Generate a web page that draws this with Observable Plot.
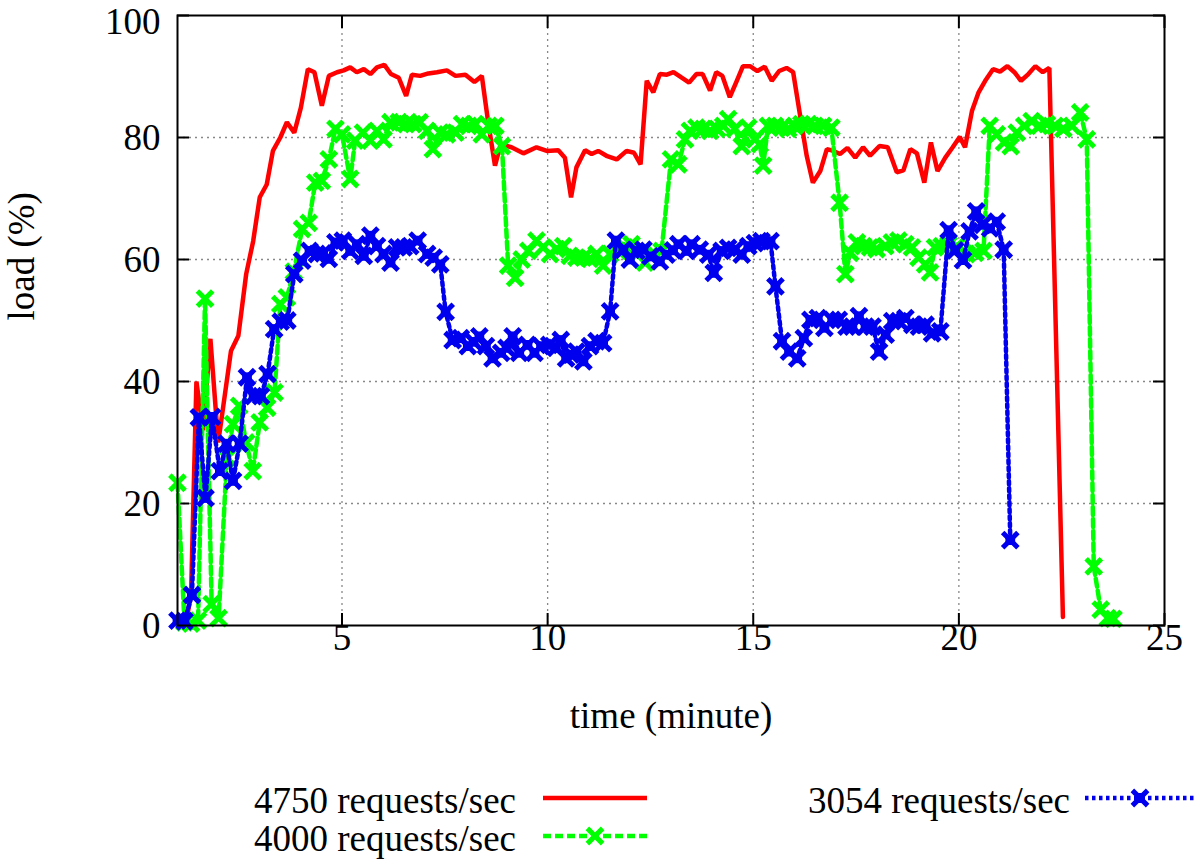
<!DOCTYPE html>
<html><head><meta charset="utf-8">
<script src="https://cdn.jsdelivr.net/npm/d3@7"></script>
<script src="https://cdn.jsdelivr.net/npm/@observablehq/plot@0.6"></script>
<style>
body{margin:0;background:#fff;}
#wrap{width:1200px;height:861px;overflow:hidden;background:#fff;}
svg{display:block;}
</style></head><body><div id="wrap"></div>
<script>
// time (minute), load (%)
const series4750 = [[1.22,1],[1.33,5],[1.46,40],[1.62,32],[1.8,47],[1.99,30],[2.3,45],[2.48,47.5],[2.67,57.6],[2.84,63],[3.0,70.2],[3.17,72.3],[3.32,77.8],[3.5,80],[3.66,82.5],[3.84,80.8],[4.0,84.9],[4.17,91.2],[4.33,90.7],[4.51,85.2],[4.68,90.1],[4.88,90.7],[5.04,91],[5.2,91.5],[5.36,90.7],[5.53,91.2],[5.69,90.4],[5.85,91.5],[6.03,91.9],[6.19,90.4],[6.38,89.8],[6.56,86.8],[6.7,90.3],[6.9,90.1],[7.1,90.5],[7.31,90.7],[7.55,91],[7.76,90.1],[8.0,90.3],[8.22,89.1],[8.4,90.1],[8.55,82.7],[8.72,75.4],[8.86,78.9],[9.12,78.4],[9.41,77.4],[9.73,78.4],[9.98,77.8],[10.26,77.9],[10.42,76.7],[10.57,70.2],[10.7,75.1],[10.91,77.9],[11.07,77.3],[11.23,77.8],[11.43,77],[11.68,76.4],[11.92,77.8],[12.1,77.5],[12.26,75.6],[12.41,89.3],[12.57,87.4],[12.73,90.4],[12.9,90.3],[13.06,90.7],[13.26,89.8],[13.44,89],[13.62,90.4],[13.77,90.4],[13.95,87.7],[14.1,90.7],[14.25,90.1],[14.43,86.6],[14.6,89.3],[14.75,91.7],[14.92,91.7],[15.1,90.9],[15.28,91.6],[15.45,89.3],[15.63,90.9],[15.81,91.4],[15.97,90.7],[16.13,84],[16.3,77],[16.45,72.6],[16.63,74.5],[16.79,78.1],[16.95,77.8],[17.11,77.3],[17.29,78.3],[17.48,76.7],[17.67,78.4],[17.84,77],[18.07,78.6],[18.27,78.4],[18.49,74.3],[18.65,74.6],[18.82,78.1],[18.98,77.4],[19.16,72.6],[19.32,79.2],[19.48,74.5],[19.67,76.7],[19.85,78.4],[20.02,80.1],[20.15,78.4],[20.32,84.4],[20.48,87.4],[20.64,89.3],[20.83,91.2],[21.0,90.8],[21.18,91.7],[21.35,90.7],[21.51,89.3],[21.69,90.4],[21.86,91.7],[22.04,90.7],[22.2,91.4],[22.53,1.4]];

const series4000 = [[1.0,23.4],[1.17,0.5],[1.33,0.3],[1.5,0.8],[1.67,53.6],[1.83,3.5],[2.0,1.2],[2.2,27.5],[2.35,33],[2.5,36],[2.67,30],[2.83,25.3],[3.0,33.3],[3.18,35.7],[3.36,38.2],[3.5,52.7],[3.66,53.8],[3.83,58],[4.03,65],[4.19,66],[4.35,72.6],[4.51,72.9],[4.68,76.4],[4.84,81.4],[5.0,80.5],[5.2,73.2],[5.32,79.5],[5.51,80.8],[5.69,79.5],[5.85,81.1],[6.01,79.7],[6.18,82.5],[6.38,82.5],[6.56,82.2],[6.73,82.2],[6.89,82.5],[7.07,81.1],[7.21,78.1],[7.39,80.8],[7.55,80.5],[7.76,80.8],[7.92,82.2],[8.08,81.9],[8.24,82.2],[8.4,80.5],[8.57,81.9],[8.73,81.9],[8.89,78.6],[9.04,59],[9.21,57],[9.37,60],[9.53,61.4],[9.73,63.1],[9.89,62],[10.06,60.9],[10.22,61.7],[10.38,62.2],[10.54,60.6],[10.7,60.3],[10.87,60.3],[11.03,60.1],[11.19,60.9],[11.35,59],[11.52,60.9],[11.72,61.4],[11.88,62],[12.04,62.5],[12.2,61.1],[12.37,59.5],[12.57,61.1],[12.77,61.4],[13.0,76.4],[13.18,75.6],[13.34,79.7],[13.46,81.1],[13.62,81.6],[13.78,81.4],[13.95,81.1],[14.12,81.4],[14.27,81.9],[14.39,83],[14.55,81.4],[14.72,78.6],[14.88,81.6],[15.04,79.7],[15.16,78.9],[15.24,75.4],[15.36,81.9],[15.53,81.9],[15.69,81.6],[15.85,81.4],[16.01,81.9],[16.17,82.2],[16.34,82.2],[16.5,81.9],[16.7,81.9],[16.9,81.6],[17.1,69.3],[17.24,57.6],[17.36,61.1],[17.52,62.8],[17.68,62.2],[17.84,62],[18.0,61.7],[18.21,62.2],[18.37,62.8],[18.53,63.1],[18.7,62.5],[18.86,62],[19.02,60.3],[19.18,59.2],[19.3,57.9],[19.42,62],[19.58,62.2],[19.75,62.5],[19.95,62.2],[20.19,60.9],[20.4,61.1],[20.6,61.4],[20.75,81.9],[20.92,80.5],[21.1,79.2],[21.26,78.6],[21.41,80.8],[21.59,81.9],[21.77,82.7],[21.96,81.9],[22.14,82.2],[22.34,81.9],[22.54,81.4],[22.75,81.9],[22.95,84.1],[23.11,79.7],[23.28,9.7],[23.45,2.6],[23.62,1.2],[23.76,1.1]];

const series3054 = [[1.0,0.8],[1.17,0.7],[1.35,5],[1.52,34.1],[1.68,20.9],[1.84,34.2],[2.03,25.3],[2.19,29.8],[2.35,23.7],[2.51,29.8],[2.69,40.7],[2.85,37.6],[3.03,37.6],[3.19,41.2],[3.35,48.6],[3.51,49.8],[3.67,50],[3.84,57.6],[4.03,59.8],[4.21,61.4],[4.39,60.9],[4.54,61],[4.68,60.1],[4.84,62.8],[5.02,63.1],[5.2,61.4],[5.36,62.5],[5.53,60.6],[5.69,63.9],[5.85,62.2],[6.01,60.9],[6.18,59.5],[6.34,62],[6.5,62],[6.66,62.2],[6.84,63.1],[7.07,60.9],[7.23,60.3],[7.39,59.2],[7.52,51.4],[7.69,46.8],[7.89,47.1],[8.06,45.8],[8.2,46.5],[8.34,47.4],[8.5,45.8],[8.66,43.8],[8.87,44.7],[9.0,45.5],[9.15,47.4],[9.31,44.7],[9.51,46],[9.68,44.7],[9.84,45.8],[10.04,46],[10.2,45.5],[10.32,46.8],[10.45,43.8],[10.57,44.4],[10.7,44.9],[10.87,43.3],[11.03,45.8],[11.19,46.6],[11.35,46.3],[11.52,51.5],[11.66,63.1],[11.84,61.6],[12.0,60],[12.16,61.4],[12.33,61.6],[12.5,60.5],[12.73,59.7],[12.89,60.8],[13.05,61.5],[13.18,62.5],[13.38,61.4],[13.5,62.5],[13.7,61.6],[13.91,60.8],[14.04,57.8],[14.23,61.4],[14.39,61.9],[14.55,61.6],[14.72,60.8],[14.88,62.2],[15.04,62.7],[15.2,63],[15.42,63],[15.54,55.6],[15.7,46.6],[15.87,44.9],[16.07,43.8],[16.23,47.1],[16.39,50.1],[16.57,50.4],[16.73,48.8],[16.92,50.1],[17.08,50.1],[17.27,49],[17.41,49],[17.57,50.7],[17.73,49],[17.9,49],[18.06,44.9],[18.22,47.7],[18.38,49.9],[18.54,49.9],[18.7,50.4],[18.87,49.3],[19.03,49],[19.19,49.3],[19.35,47.9],[19.55,48.2],[19.75,64.8],[19.91,61.5],[20.1,59.9],[20.26,64.6],[20.42,67.9],[20.58,65.7],[20.76,65.1],[20.92,66.2],[21.09,61.6],[21.25,14]];

const seriesNames = ["4750 requests/sec", "4000 requests/sec", "3054 requests/sec"];
const seriesColors = ["#ff0000", "#00ff00", "#0000ee"];
const xTicks = [5, 10, 15, 20, 25];
const yTicks = [0, 20, 40, 60, 80, 100];
const xLabel = "time (minute)";
const yLabel = "load (%)";

const toRows = (arr) => arr.map(([t, v]) => ({t, v}));
const red = toRows(series4750), green = toRows(series4000), blue = toRows(series3054);

const FONT = '"Liberation Serif", "Times New Roman", serif';
const FS = 37;
const gridStyle = {stroke: "#888", strokeOpacity: 1, strokeWidth: 1.3, strokeDasharray: "2,4"};

const chart = Plot.plot({
  width: 1200, height: 760,
  marginLeft: 177, marginRight: 36, marginTop: 15, marginBottom: 135,
  style: {fontFamily: FONT, fontSize: FS + "px", color: "black", background: "white", overflow: "visible"},
  x: {domain: [1, 25]},
  y: {domain: [0, 100]},
  marks: [
    Plot.gridX(xTicks.slice(0, 4), gridStyle),
    Plot.gridY(yTicks.slice(1, 5), gridStyle),
    Plot.axisX({ticks: xTicks, tickSize: 0, tickPadding: -2, label: null, fontSize: FS}),
    Plot.axisX({ticks: xTicks, tickSize: -12, tickFormat: () => "", label: null, strokeWidth: 2}),
    Plot.axisX({anchor: "top", ticks: xTicks, tickSize: -12, tickFormat: () => "", label: null, strokeWidth: 2}),
    Plot.axisY({ticks: yTicks.slice(0, 5), tickSize: 0, tickPadding: 17, label: null, fontSize: FS, dy: 1}),
    Plot.axisY({ticks: yTicks.slice(5), tickSize: 0, tickPadding: 17, label: null, fontSize: FS, dy: 7}),
    Plot.axisY({ticks: yTicks, tickSize: -12, tickFormat: () => "", label: null, strokeWidth: 2}),
    Plot.axisY({anchor: "right", ticks: yTicks, tickSize: -12, tickFormat: () => "", label: null, strokeWidth: 2}),
    Plot.line(red, {x: "t", y: "v", stroke: seriesColors[0], strokeWidth: 4.5, strokeLinejoin: "miter"}),
    Plot.line(green, {x: "t", y: "v", stroke: seriesColors[1], strokeWidth: 4.5, strokeDasharray: "8,4"}),
    Plot.dot(green, {x: "t", y: "v", symbol: "times", r: 7, stroke: seriesColors[1], strokeWidth: 5}),
    Plot.line(blue, {x: "t", y: "v", stroke: seriesColors[2], strokeWidth: 4.5, strokeDasharray: "3.5,3.5"}),
    Plot.dot(blue, {x: "t", y: "v", symbol: "square", r: 5.5, fill: seriesColors[2]}),
    Plot.dot(blue, {x: "t", y: "v", symbol: "times", r: 7, stroke: seriesColors[2], strokeWidth: 5}),
    Plot.frame({stroke: "black", strokeWidth: 2}),
    Plot.text([xLabel], {frameAnchor: "bottom", dy: 102, text: d => d, fontSize: FS, fill: "black"}),
    Plot.text([yLabel], {frameAnchor: "left", dx: -155, rotate: -90, text: d => d, fontSize: FS, fill: "black"})
  ]
});
document.getElementById("wrap").appendChild(chart);

// legend below the chart
const leg = d3.create("svg").attr("width", 1200).attr("height", 101)
  .style("font-family", FONT).style("font-size", FS + "px");
const items = [
  {name: seriesNames[0], color: seriesColors[0], tx: 516, y: 40, x1: 543, x2: 647, dash: null, marker: false},
  {name: seriesNames[1], color: seriesColors[1], tx: 516, y: 78, x1: 543, x2: 647, dash: "8,4", marker: "x"},
  {name: seriesNames[2], color: seriesColors[2], tx: 1070, y: 40, x1: 1085, x2: 1195, dash: "3.5,3.5", marker: "sq"}
];
const sym = d3.symbol(d3.symbolTimes, Math.PI * 49)();
for (const it of items) {
  leg.append("text").attr("x", it.tx).attr("y", it.y).attr("text-anchor", "end")
    .attr("dominant-baseline", "central").attr("fill", "black").text(it.name);
  leg.append("line").attr("x1", it.x1).attr("x2", it.x2).attr("y1", it.y - 2).attr("y2", it.y - 2)
    .attr("stroke", it.color).attr("stroke-width", 4.5).attr("stroke-dasharray", it.dash);
  if (it.marker) {
    const cx = (it.x1 + it.x2) / 2;
    if (it.marker === "sq") leg.append("rect").attr("x", cx - 5).attr("y", it.y - 7).attr("width", 10).attr("height", 10).attr("fill", it.color);
    leg.append("path").attr("d", sym).attr("transform", `translate(${cx},${it.y - 2})`)
      .attr("stroke", it.color).attr("stroke-width", 5).attr("fill", "none");
  }
}
document.getElementById("wrap").appendChild(leg.node());
</script></body></html>
